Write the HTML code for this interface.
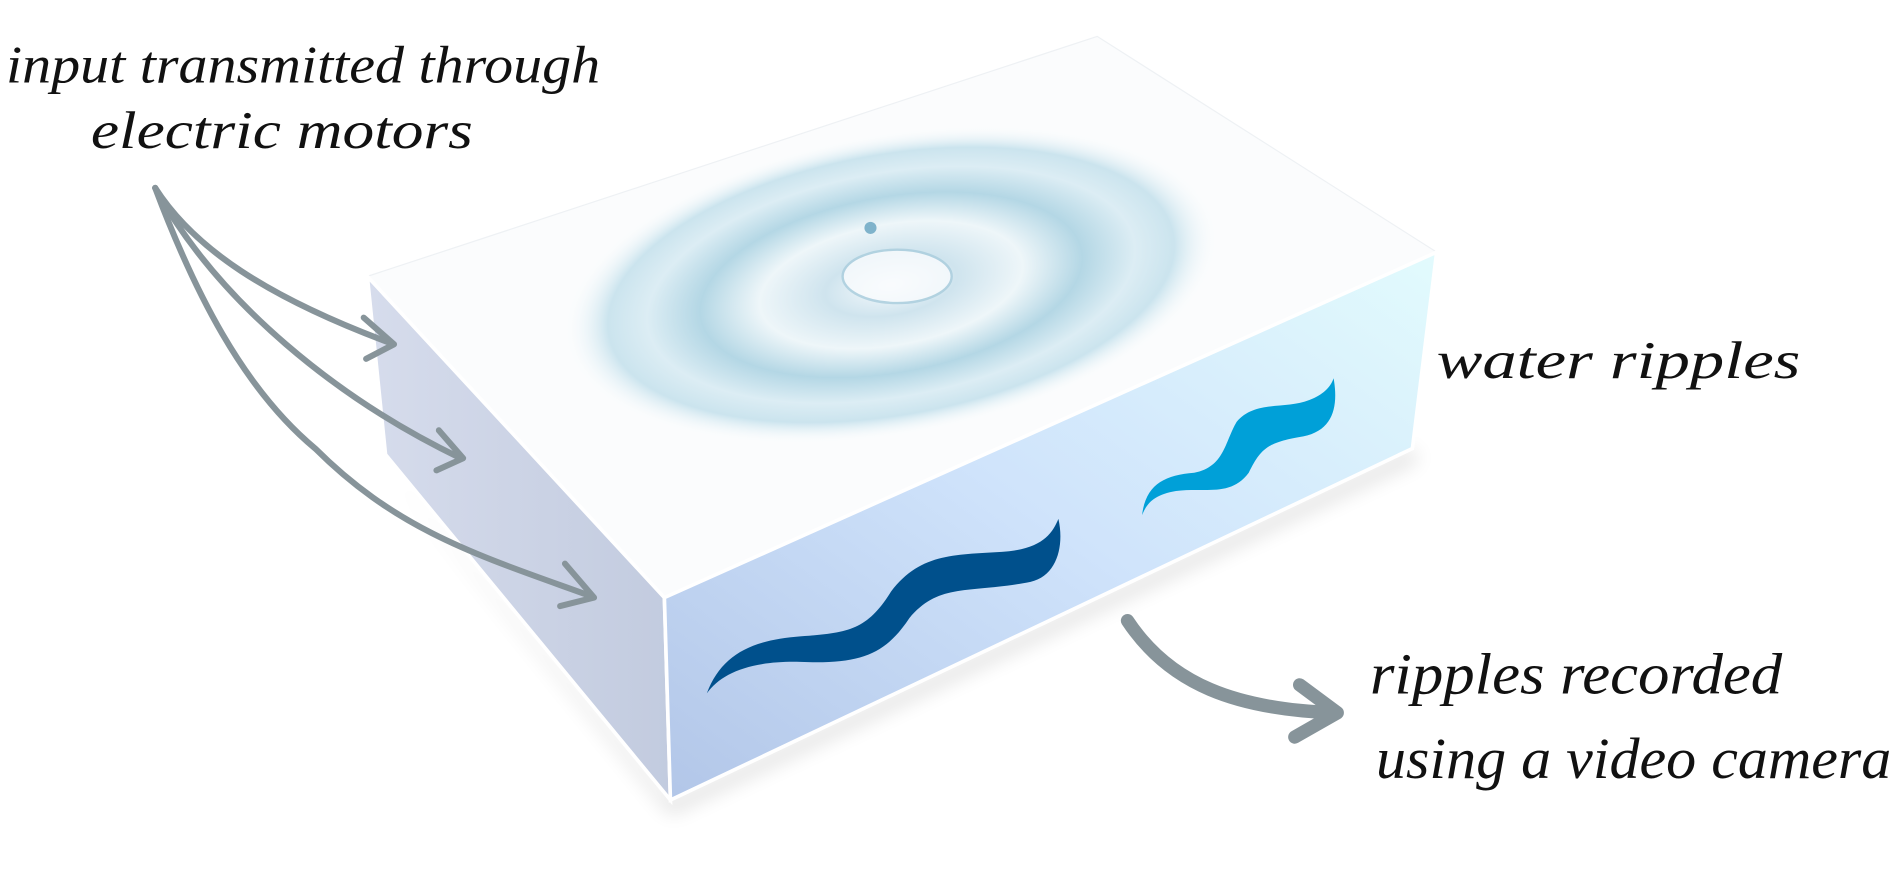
<!DOCTYPE html>
<html><head><meta charset="utf-8"><style>
html,body{margin:0;padding:0;background:#fff;width:1901px;height:874px;overflow:hidden}
svg{display:block}
.hw{font-family:"Liberation Serif",serif;font-style:italic;fill:#111}
</style></head><body>
<svg width="1901" height="874" viewBox="0 0 1568 721" preserveAspectRatio="none">
<defs>
<radialGradient id="rip" cx="0.5" cy="0.5" r="0.5">
<stop offset="0" stop-color="#f8fbfd"/>
<stop offset="0.2" stop-color="#cfe4ee"/>
<stop offset="0.4" stop-color="#eef6f9"/>
<stop offset="0.58" stop-color="#b4d7e5"/>
<stop offset="0.74" stop-color="#dcedf4"/>
<stop offset="0.86" stop-color="#cbe4ee"/>
<stop offset="1" stop-color="#ffffff" stop-opacity="0"/>
</radialGradient>
<linearGradient id="front" x1="0" y1="1" x2="1" y2="0">
<stop offset="0" stop-color="#b2c6e8"/>
<stop offset="0.5" stop-color="#cfe3fb"/>
<stop offset="1" stop-color="#e2fbfd"/>
</linearGradient>
<linearGradient id="left" x1="0" y1="0" x2="1" y2="0">
<stop offset="0" stop-color="#d6dcec"/>
<stop offset="1" stop-color="#c2cbdf"/>
</linearGradient>
<filter id="sh"><feGaussianBlur stdDeviation="8"/></filter>
</defs>
<polygon points="318,385 553,672 1170,380 1165,370 553,660" fill="#000" opacity="0.12" filter="url(#sh)"/>
<polygon points="303,228 905,30 1185,208 548,493" fill="#fbfcfd" stroke="#eef1f4"/>
<ellipse cx="735" cy="235" rx="275" ry="125" transform="rotate(-10 735 235)" fill="url(#rip)"/>
<ellipse cx="740" cy="228" rx="45" ry="22" fill="#fafcfe" stroke="#a9cddd" stroke-width="2" opacity="0.8"/>
<circle cx="718" cy="188" r="5" fill="#7fb3cb"/>
<polygon points="303,228 548,493 553,660 318,375" fill="url(#left)" stroke="#fff" stroke-width="3"/>
<polygon points="548,493 1185,208 1165,370 553,660" fill="url(#front)" stroke="#fff" stroke-width="3"/>
<path d="M583,572 C595,540 620,528 660,525 C700,522 715,520 735,488 C760,455 790,458 830,455 C860,452 868,440 873,428 C878,450 872,475 850,480 C800,490 775,480 750,510 C730,540 710,548 660,546 C620,545 595,555 583,572 Z" fill="#00508c"/>
<path d="M942,425 C945,400 960,392 985,390 C1010,385 1010,365 1020,348 C1035,330 1060,338 1080,330 C1093,325 1098,318 1100,312 C1104,335 1100,355 1075,360 C1045,365 1040,370 1030,390 C1015,410 995,402 970,405 C952,408 946,415 942,425 Z" fill="#00a0d8"/>
<g fill="none" stroke="#87949a" stroke-width="5" stroke-linecap="round" stroke-linejoin="round">
<path d="M128,155 C160,205 220,245 322,283"/><path d="M300,262 L325,284 L302,296"/>
<path d="M128,155 C180,250 280,330 380,378"/><path d="M362,355 L382,378 L360,388"/>
<path d="M128,155 C160,240 200,320 260,370 C330,440 400,460 488,492"/><path d="M466,465 L490,493 L462,500"/>
</g>
<g fill="none" stroke="#87949a" stroke-width="11" stroke-linecap="round" stroke-linejoin="round">
<path d="M930,512 C965,565 1020,585 1100,588"/><path d="M1072,565 L1103,588 L1068,608"/>
</g>
<text class="hw" x="5" y="68" font-size="44" textLength="490" lengthAdjust="spacingAndGlyphs">input transmitted through</text>
<text class="hw" x="75" y="122" font-size="44" textLength="315" lengthAdjust="spacingAndGlyphs">electric motors</text>
<text class="hw" x="1185" y="312" font-size="44" textLength="300" lengthAdjust="spacingAndGlyphs">water ripples</text>
<text class="hw" x="1130" y="572" font-size="48" textLength="340" lengthAdjust="spacingAndGlyphs">ripples recorded</text>
<text class="hw" x="1135" y="642" font-size="48" textLength="425" lengthAdjust="spacingAndGlyphs">using a video camera</text>
</svg>
</body></html>
